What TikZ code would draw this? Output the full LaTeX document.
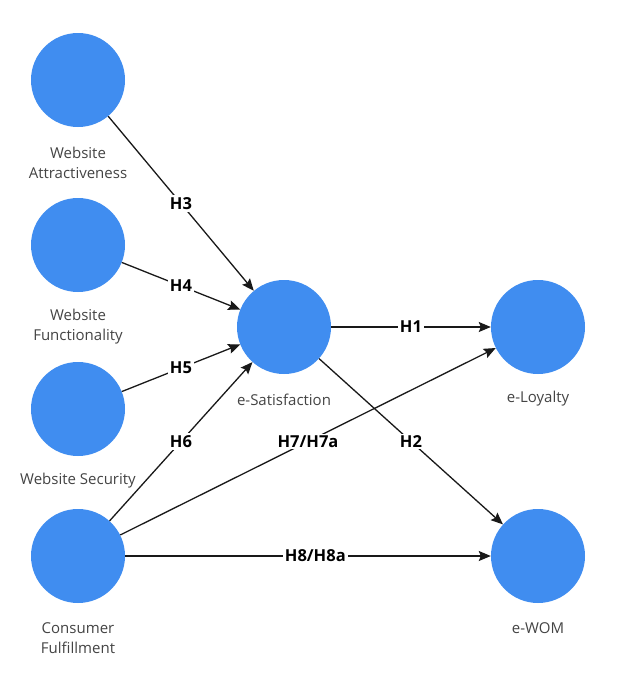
\documentclass[tikz,border=0pt]{standalone}
\usepackage{fontspec}
\setmainfont{Open Sans}
\usetikzlibrary{arrows.meta}
\definecolor{nodeblue}{RGB}{64,141,240}
\definecolor{txtgray}{RGB}{68,68,68}
\begin{document}
\begin{tikzpicture}[x=1pt,y=-1pt,
 lv/.style={circle,fill=nodeblue,minimum size=94pt,inner sep=0pt},
 lvtext/.style={text=txtgray,font=\fontsize{15}{20}\selectfont,align=center,inner sep=0pt},
 conn/.style={draw=black!90,line width=1.3pt,-{Stealth[length=12pt,width=10pt,inset=2pt]}},
 hyp/.style={fill=white,font=\fontsize{16.5}{18}\bfseries\selectfont,inner sep=2pt,text=black}]
\useasboundingbox[fill=white] (0,0) rectangle (637,680);
% latent variables
\node[lv] (wa) at (78,80) {};
\node[lv] (wf) at (78,245) {};
\node[lv] (ws) at (78,409) {};
\node[lv] (cf) at (78,556) {};
\node[lv] (es) at (284,327) {};
\node[lv] (el) at (538,327) {};
\node[lv] (ew) at (538,556) {};
% labels
\node[lvtext] (walab) at (78,163) {Website\\Attractiveness};
\node[lvtext] (wflab) at (78,327) {Website\\Functionality};
\node[lvtext] (wslab) at (78,481) {Website Security};
\node[lvtext] (cflab) at (78,638) {Consumer\\Fulfillment};
\node[lvtext] (eslab) at (284,400) {e-Satisfaction};
\node[lvtext] (ellab) at (538,399) {e-Loyalty};
\node[lvtext] (ewlab) at (538,628) {e-WOM};
% paths
\draw[conn] (wa) -- node[hyp] {H3} (es);
\draw[conn] (wf) -- node[hyp] {H4} (es);
\draw[conn] (ws) -- node[hyp] {H5} (es);
\draw[conn] (cf) -- node[hyp] {H6} (es);
\draw[conn] (cf) -- node[hyp] {H7/H7a} (el);
\draw[conn] (es) -- node[hyp] {H2} (ew);
\draw[conn] (es) -- node[hyp] {H1} (el);
\draw[conn] (cf) -- node[hyp,pos=0.52] {H8/H8a} (ew);
\end{tikzpicture}
\end{document}
